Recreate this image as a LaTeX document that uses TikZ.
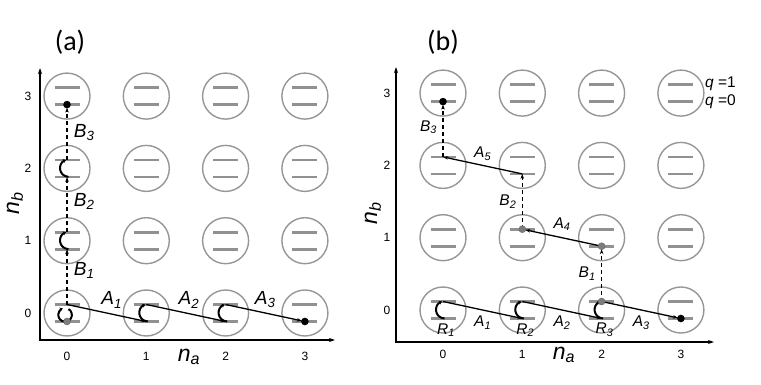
\documentclass[tikz,border=0pt]{standalone}
\usepackage{fontspec}
\setmainfont{Liberation Sans}
\newfontfamily\tagfont{Carlito}
\usepackage{xcolor}
\usetikzlibrary{calc,arrows.meta,positioning}
\definecolor{cellGray}{RGB}{150,150,150}
\definecolor{levelGray}{RGB}{145,145,145}
\definecolor{dotGray}{RGB}{125,125,125}
\newcommand{\sym}[2]{\textit{#1}\textsubscript{\textit{#2}}}

\begin{document}
\begin{tikzpicture}[x=1pt, y=1pt,
    cell/.style={circle, draw=cellGray, line width=1.4pt, minimum size=46pt, inner sep=0pt},
    level/.style={levelGray, line width=2.8pt},
    axis/.style={line width=1.6pt, {Stealth[length=6pt,width=4pt]}-{Stealth[length=6pt,width=4pt]}},
    hop/.style={line width=1.3pt, -{Stealth[length=5pt,width=3.5pt]}},
    tunnel/.style={hop, dash pattern=on 4pt off 3pt},
    flip/.style={line width=2pt, -{Stealth[length=3pt,width=4pt]}},
    tick/.style={font=\fontsize{12}{14}\selectfont},
    biglab/.style={font=\fontsize{19}{22}\selectfont},
    smalllab/.style={font=\fontsize{15.5}{18}\selectfont},
    axlab/.style={font=\fontsize{23}{26}\selectfont},
    rot/.pic={\draw[flip] (1.5,-8.5) .. controls (-9,-7.5) and (-9,5) .. (-1,8.5);},
    spin/.pic={\draw[flip] (1.5,4) arc[start angle=60, end angle=-250, radius=6.8];}
]
\useasboundingbox (0,0) rectangle (761,384);

% ---------- panel (a) ----------
\node[font=\tagfont\fontsize{28}{32}\selectfont] (tagA) at (70,342) {(a)};
\foreach \i in {0,...,3}{
    \foreach \j in {0,...,3}{
        \node[cell] (a\i\j) at (67+\i*79.3, 71+\j*72.3) {};
        \draw[level] ($(a\i\j)+(-12.5,8.5)$) -- ++(25,0);
        \draw[level] ($(a\i\j)+(-12.5,-8.5)$) -- ++(25,0);
        \coordinate (au\i\j) at ($(a\i\j)+(0,8.5)$);
        \coordinate (al\i\j) at ($(a\i\j)+(0,-8.5)$);
    }
    \node[tick] (xa\i) at ($(a\i0)+(0,-43)$) {\i};
    \node[tick] (ya\i) at ($(a0\i)+(-39,0)$) {\i};
}

% axes
\coordinate (aO) at (40,44);
\coordinate (aX) at (335,44);
\coordinate (aY) at (40,316);
\draw[axis] (aY) -- (aO) -- (aX);
\node[axlab] (naA) at (189,27) {\sym{n}{a}};
\node[axlab, rotate=90] (nbA) at (15,181) {\sym{n}{b}};

% moves along n_a
\draw[hop] (au00) -- node[biglab, above=1pt, xshift=5pt] (lA1) {\sym{A}{1}} (al10);
\draw[hop] (au10) -- node[biglab, above=1pt, xshift=3pt] (lA2) {\sym{A}{2}} (al20);
\draw[hop, shorten >=3pt] (au20) -- node[biglab, above=1pt] (lA3) {\sym{A}{3}} (al30);

% moves along n_b
\draw[tunnel] (au00) -- node[biglab, right=3pt, yshift=6pt] (lB1) {\sym{B}{1}} (al01);
\draw[tunnel] (au01) -- node[biglab, right=3pt, yshift=3pt] (lB2) {\sym{B}{2}} (al02);
\draw[tunnel, shorten >=3pt] (au02) -- node[biglab, right=3pt] (lB3) {\sym{B}{3}} (al03);

% qubit rotations
\pic at (a00) {spin};
\pic at (a10) {rot};
\pic at (a20) {rot};
\pic at (a01) {rot};
\pic at (a02) {rot};

\filldraw[fill=dotGray, draw=black!60, line width=0.4pt] (al00) circle (3.5);
\fill (al30) circle (3.8);
\fill (al03) circle (3.8);

% ---------- panel (b) ----------
\node[font=\tagfont\fontsize{28}{32}\selectfont] (tagB) at (443,342) {(b)};
\foreach \i in {0,...,3}{
    \foreach \j in {0,...,3}{
        \node[cell] (b\i\j) at (443+\i*79.3, 74+\j*72.3) {};
        \draw[level] ($(b\i\j)+(-12.5,8.5)$) -- ++(25,0);
        \draw[level] ($(b\i\j)+(-12.5,-8.5)$) -- ++(25,0);
        \coordinate (bu\i\j) at ($(b\i\j)+(0,8.5)$);
        \coordinate (bl\i\j) at ($(b\i\j)+(0,-8.5)$);
    }
    \node[tick] (xb\i) at ($(b\i0)+(0,-44)$) {\i};
    \node[tick] (yb\i) at ($(b0\i)+(-56,0)$) {\i};
}

% axes
\coordinate (bO) at (396,42);
\coordinate (bX) at (714,42);
\coordinate (bY) at (396,317);
\draw[axis] (bY) -- (bO) -- (bX);
\node[axlab] (naB) at (564,29) {\sym{n}{a}};
\node[axlab, rotate=90] (nbB) at (373,171) {\sym{n}{b}};

% qubit level legend
\node[smalllab, anchor=west, inner sep=1pt] (q1) at ($(b33)+(23,9)$) {\textit{q} =1};
\node[smalllab, anchor=west, inner sep=1pt] (q0) at ($(b33)+(23,-9)$) {\textit{q} =0};

% moves along n_a, bottom row
\draw[hop] (bu00) -- node[smalllab, below=2pt] (mA1) {\sym{A}{1}} (bl10);
\draw[hop] (bu10) -- node[smalllab, below=2pt] (mA2) {\sym{A}{2}} (bl20);
\draw[hop, shorten >=3pt] (bu20) -- node[smalllab, below=2pt] (mA3) {\sym{A}{3}} (bl30);

% detour up the lattice
\draw[tunnel, shorten >=3pt] (bu20) -- node[smalllab, left=2pt] (mB1) {\sym{B}{1}} (bl21);
\draw[hop, shorten >=3pt] (bl21) -- node[smalllab, above=3pt] (mA4) {\sym{A}{4}} (bu11);
\draw[tunnel] (bu11) -- node[smalllab, left=2pt] (mB2) {\sym{B}{2}} (bl12);
\draw[hop] (bl12) -- node[smalllab, above=1pt] (mA5) {\sym{A}{5}} (bu02);
\draw[tunnel, shorten >=3pt] (bu02) -- node[smalllab, left=2pt, yshift=2pt] (mB3) {\sym{B}{3}} (bl03);

% qubit rotations
\foreach \i in {0,1,2}{
    \pic at (b\i0) {rot};
    \node[smalllab] (mR\i) at ($(b\i0)+(3,-20)$) {\sym{R}{\the\numexpr\i+1\relax}};
}

\filldraw[fill=dotGray, draw=black!60, line width=0.4pt] (bu20) circle (3.5);
\filldraw[fill=dotGray, draw=black!60, line width=0.4pt] (bl21) circle (3.5);
\filldraw[fill=dotGray, draw=black!60, line width=0.4pt] (bu11) circle (3.5);
\fill (bl30) circle (3.8);
\fill (bl03) circle (3.8);
\end{tikzpicture}
\end{document}
